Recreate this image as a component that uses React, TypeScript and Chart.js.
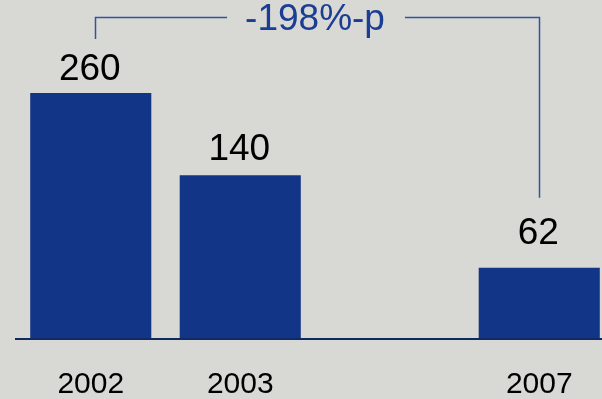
import React, { useEffect, useRef } from "react";
import { Chart, registerables } from "chart.js";

Chart.register(...registerables);

// Data
const categories: string[] = ["2002", "2003", "", "2007"];
// Labels printed above the bars
const valueLabels: (number | null)[] = [260, 140, null, 62];
// Bar levels as drawn in the picture (bars are not to scale with their labels)
const barLevels: (number | null)[] = [260, 173, null, 75];
const changeLabel = "-198%-p";

const BG = "#d8d9d4";
const BAR = "#133587";
const NAVY_TEXT = "#1b3d94";
const BRACKET = "#2f54a2";
const FONT = "'Liberation Sans', Arial, Helvetica, sans-serif";

// style: label gaps above each bar (px)
const LABEL_GAPS = [13, 15, 0, 24];

const overlayPlugin = {
  id: "overlay",
  afterDatasetsDraw(chart: any) {
    const ctx = chart.ctx as CanvasRenderingContext2D;
    const meta = chart.getDatasetMeta(0);
    ctx.save();
    // value labels
    ctx.font = `37px ${FONT}`;
    ctx.fillStyle = "#000000";
    ctx.textAlign = "center";
    ctx.textBaseline = "alphabetic";
    meta.data.forEach((bar: any, i: number) => {
      const v = valueLabels[i];
      if (v == null || barLevels[i] == null) return;
      ctx.fillText(String(v), bar.x - 1, bar.y - LABEL_GAPS[i]);
    });

    // bracket from first to last bar
    const first = meta.data[0] as any;
    const last = meta.data[meta.data.length - 1] as any;
    const lx = Math.round(first.x + 4) + 0.5;
    const rx = Math.round(last.x) + 0.5;
    const topY = 17.5;
    const leftEnd = first.y - 54;
    const rightEnd = last.y - 70;

    ctx.font = `37px ${FONT}`;
    const tw = ctx.measureText(changeLabel).width;
    const cx = (lx + rx) / 2 - 2.5;

    ctx.strokeStyle = BRACKET;
    ctx.lineWidth = 1.5;
    ctx.beginPath();
    ctx.moveTo(lx, leftEnd);
    ctx.lineTo(lx, topY);
    ctx.lineTo(cx - tw / 2 - 18, topY);
    ctx.moveTo(cx + tw / 2 + 20, topY);
    ctx.lineTo(rx, topY);
    ctx.lineTo(rx, rightEnd);
    ctx.stroke();

    ctx.fillStyle = NAVY_TEXT;
    ctx.textAlign = "center";
    ctx.fillText(changeLabel, cx, 30);
    ctx.restore();
  },
};

export default function App() {
  const canvasRef = useRef<HTMLCanvasElement | null>(null);

  useEffect(() => {
    document.body.style.margin = "0";
    const canvas = canvasRef.current;
    if (!canvas) return;
    const chart = new Chart(canvas, {
      type: "bar",
      data: {
        labels: categories,
        datasets: [
          {
            data: barLevels,
            backgroundColor: BAR,
            borderWidth: 0,
            barPercentage: 0.81,
            categoryPercentage: 1,
          },
        ],
      },
      options: {
        responsive: false,
        animation: false,
        devicePixelRatio: 1,
        layout: { padding: { top: 93, left: 16, right: 6, bottom: 8.5 } },
        plugins: {
          legend: { display: false },
          tooltip: { enabled: false },
          title: { display: false },
        },
        scales: {
          x: {
            type: "category",
            grid: { display: false, drawTicks: false },
            border: { display: true, color: "#0f2a5c", width: 2 },
            ticks: {
              color: "#000000",
              font: { family: FONT, size: 30 },
              padding: 28,
              maxRotation: 0,
              autoSkip: false,
            },
          },
          y: {
            display: false,
            min: 0,
            max: 260,
          },
        },
      },
      plugins: [overlayPlugin],
    });
    return () => chart.destroy();
  }, []);

  return (
    <div
      style={{
        position: "fixed",
        left: 0,
        top: 0,
        width: 602,
        height: 399,
        overflow: "hidden",
        background: BG,
      }}
    >
      <canvas
        ref={canvasRef}
        width={620}
        height={439}
        style={{ display: "block", width: 620, height: 439 }}
      />
    </div>
  );
}
